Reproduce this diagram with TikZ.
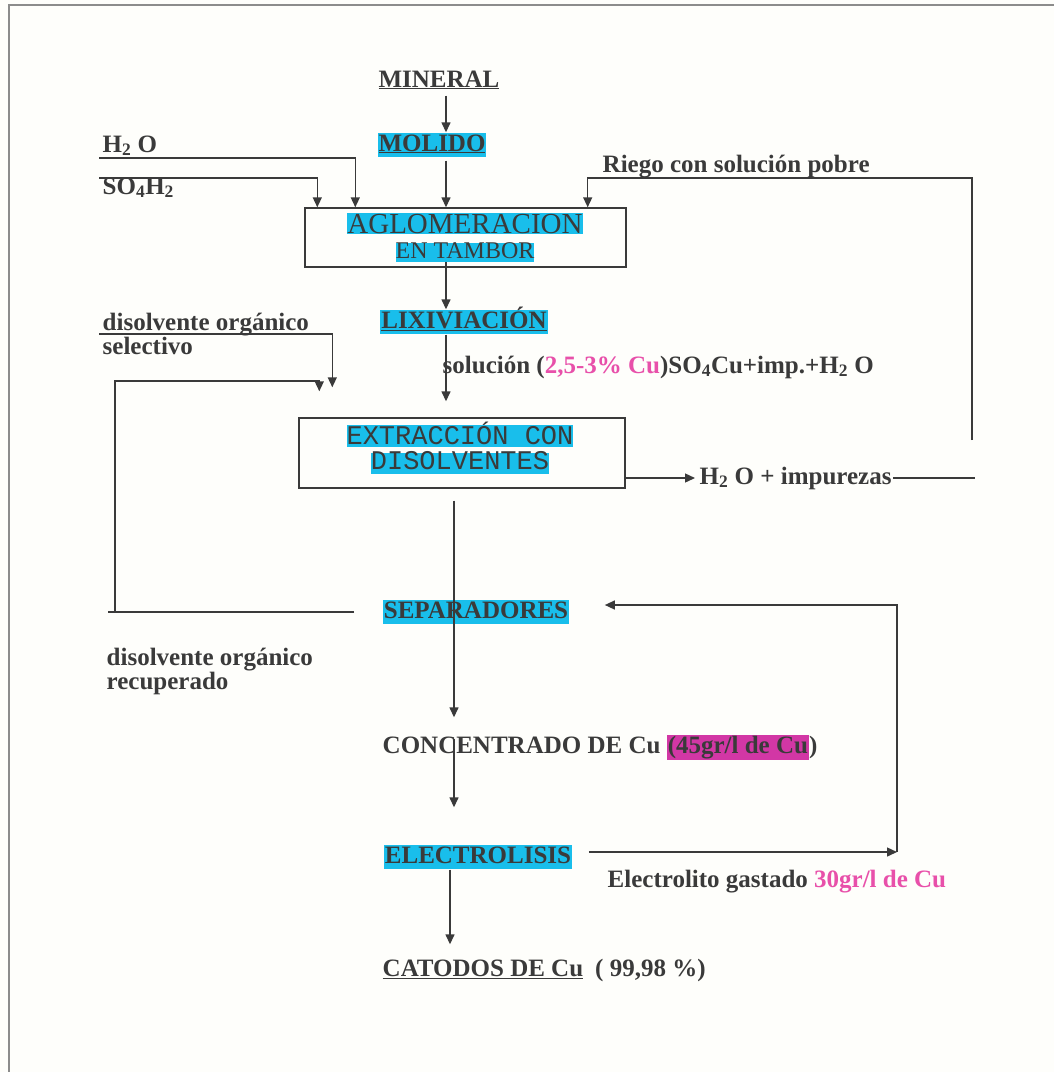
\documentclass[tikz,border=0pt]{standalone}
\usepackage{fontspec}
\setmainfont{Liberation Serif}
\newfontfamily\monofam{Liberation Mono}
\usetikzlibrary{arrows.meta}
\definecolor{figK}{RGB}{58,58,58}
\definecolor{figC}{RGB}{25,190,235}
\definecolor{figP}{RGB}{232,80,170}
\definecolor{figM}{RGB}{210,55,165}
\definecolor{figG}{RGB}{140,140,140}
\definecolor{figW}{RGB}{254,254,251}
\setlength{\fboxsep}{1pt}

\begin{document}
\begin{tikzpicture}[x=1pt,y=-1pt,>={Triangle[length=10pt,width=9pt]},line width=1.4pt,color=figK,
  lab/.style={font=\fontsize{25}{28}\selectfont\bfseries,inner sep=1pt,text height=17pt,text depth=5pt},
  hl/.style={lab,fill=figC},
  note/.style={lab,inner ysep=0pt,text depth=4pt},
  proc/.style={draw=figK,inner sep=0pt},
  boxtxt/.style={fill=figC,inner sep=0pt}]
\path[use as bounding box,fill=figW] (0,0) rectangle (1054,1072);
\draw[figG,line width=2pt] (9,1072) -- (9,5) -- (1054,5);
\coordinate (axA) at (446,0);
\coordinate (axB) at (454,0);
\coordinate (axC) at (450,0);
% etapas
\node[lab] (mineral) at (439,81) {\underline{MINERAL}};
\node[hl] (molido) at (432,145) {\underline{MOLIDO}};
\node[proc,minimum width=321,minimum height=59] (aglo) at (465.5,237.5) {};
\node[boxtxt,font=\fontsize{29}{29}\selectfont,text height=20pt,text depth=1pt] (agloA) at (465,223.5) {AGLOMERACION};
\node[boxtxt,font=\fontsize{24}{24}\selectfont,text height=16pt,text depth=3pt] (agloB) at (465,252) {EN TAMBOR};
\node[hl] (lix) at (464,322) {\underline{LIXIVIACIÓN}};
\node[proc,minimum width=326,minimum height=70] (ext) at (462,453) {};
\node[boxtxt,font=\fontsize{27}{27}\monofam,text height=19pt,text depth=3pt] (extA) at (460,436) {EXTRACCIÓN CON};
\node[boxtxt,font=\fontsize{27}{27}\monofam,text height=17pt,text depth=4pt] (extB) at (460,463) {DISOLVENTES};
\node[hl] (sep) at (476,612) {SEPARADORES};
\node[lab,anchor=west] (conc) at (381,747) {CONCENTRADO DE Cu \colorbox{figM}{(45gr/l de Cu})};
\node[hl] (elec) at (478,857) {ELECTROLISIS};
\node[lab,anchor=west] (cat) at (381,970) {\underline{CATODOS DE Cu}\hspace{12pt}( 99,98 \%)};
% corrientes
\node[lab,anchor=west] (agua) at (101,146) {H\textsubscript{2} O};
\node[lab,anchor=west] (acido) at (101,188) {SO\textsubscript{4}H\textsubscript{2}};
\node[lab,anchor=west] (riego) at (601,166) {Riego con solución pobre};
\node[lab,anchor=west] (sol) at (441,367) {solución (\textcolor{figP}{2,5-3\% Cu})SO\textsubscript{4}Cu+imp.+H\textsubscript{2} O};
\node[lab,anchor=west] (imp) at (698,478) {H\textsubscript{2} O + impurezas};
\node[note,anchor=base west] (orgSel1) at (101,330) {disolvente orgánico};
\node[note,anchor=base west] (orgSel2) at (101,354) {selectivo};
\node[note,anchor=base west] (orgRec1) at (105,665) {disolvente orgánico};
\node[note,anchor=base west] (orgRec2) at (105,689) {recuperado};
\node[lab,anchor=west] (gast) at (606,881) {Electrolito gastado \textcolor{figP}{30gr/l de Cu}};
\coordinate (aguaIn) at (99,158);
\coordinate (acidoIn) at (99,178);
\coordinate (selIn) at (99,334);
\coordinate (recCorner) at (115,381);
\coordinate (recStub) at (108,612);
\coordinate (riegoBot) at (972,440);
\coordinate (riegoTop) at (972,178);
\coordinate (impEnd) at (975,478);
\coordinate (retCorner) at (897,852);
\coordinate (selTip) at ([xshift=34,yshift=30]ext.north west);
\coordinate (recTip) at ([xshift=21,yshift=26]ext.north west);
\draw[->] ([yshift=-2]mineral.south -| axA) -- (molido.north -| axA);
\draw[->] ([yshift=-3]molido.south -| axA) -- (aglo.north -| axA);
\draw[->] (aguaIn) -| ([xshift=51]aglo.north west);
\draw[->] (acidoIn) -| ([xshift=13]aglo.north west);
\draw[->] (riegoBot) -- (riegoTop) -| ([xshift=-39]aglo.north east);
\draw[->] (agloB.south -| axA) -- (lix.north -| axA);
\draw[->] (lix.south -| axA) -- ([yshift=16]ext.north -| axA);
\draw[->] (selIn) -| (selTip);
\draw ([xshift=-28]sep.west) -- (recStub);
\draw[->] (recStub -| recCorner) -- (recCorner) -| (recTip);
\draw[->] (ext.east |- imp.west) -- ([xshift=-3]imp.west);
\draw (imp.east) -- (impEnd);
\draw[->] ([yshift=-12]ext.south -| axB) -- ([yshift=17]conc.north -| axB);
\draw[->] ([yshift=-5]conc.north -| axB) -- ([yshift=37]elec.north -| axB);
\draw[->] ([xshift=16]elec.east |- retCorner) -- (retCorner);
\draw[->] (retCorner) |- ([xshift=35,yshift=7]sep.east);
\draw[->] (elec.south -| axC) -- ([yshift=13]cat.north -| axC);
\end{tikzpicture}
\end{document}
